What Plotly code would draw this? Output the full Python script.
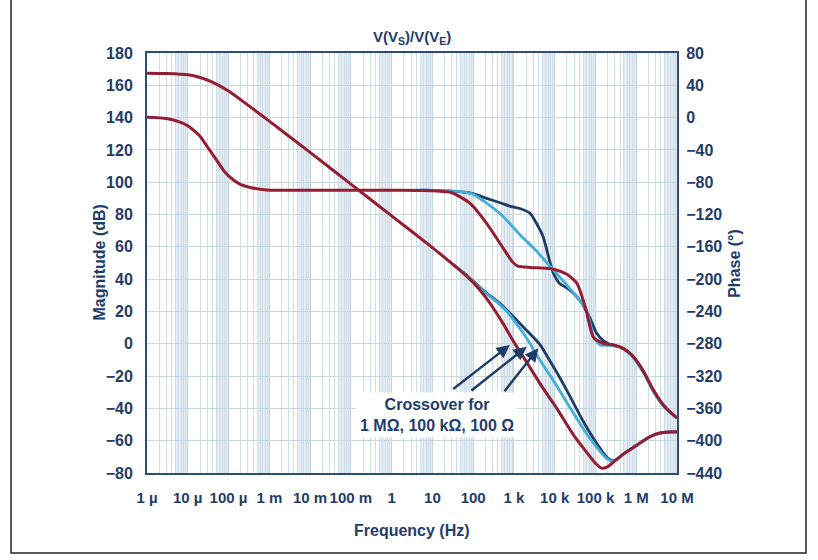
import math
import plotly.graph_objects as go

# ---------------- data ----------------
# Magnitude (dB) curves
red_mag_f = [1e-6, 3e-6, 1e-5, 2e-5, 4e-5, 1e-4, 2e-4, 5e-4, 1e-3, 1e-2, 1e-1, 1, 10, 50, 100, 200,
             500, 1e3, 2e3, 5e3, 1e4, 3e4, 6e4, 1e5, 1.4e5, 2e5, 3e5, 5e5, 1e6, 2e6, 3e6, 5e6, 1e7]
red_mag = [167.5, 167.3, 166.5, 164.8, 162, 156.5, 151, 143.5, 137.8, 118.5, 98.8, 79.2, 59.5, 45, 38, 29,
           14, 1, -11, -27, -38, -57, -67, -74, -77, -76, -72.5, -68, -63, -58, -56, -54.8, -54.5]

navy_mag_f = [30, 60, 100, 200, 500, 1e3, 2e3, 3e3, 4.5e3, 7e3, 1e4, 2e4, 5e4, 1e5,
              2e5, 2.7e5, 3.3e5, 5e5, 1e6, 2e6, 3e6, 5e6, 1e7]
navy_mag = [49.6, 43.7, 38.8, 32, 24, 16.5, 8.5, 4, -1, -9, -15.5, -29, -48, -60.5,
            -70.8, -72.3, -71.6, -68, -63, -58, -56, -54.8, -54.5]

cyan_mag_f = [30, 60, 100, 200, 400, 700, 1e3, 1.7e3, 2.5e3, 3e3, 5e3, 1e4, 2e4, 6e4,
              1e5, 1.87e5, 2.5e5, 3.3e5, 5e5, 1e6, 2e6, 3e6, 5e6, 1e7]
cyan_mag = [49.6, 43.7, 38.6, 31.5, 25.5, 19.5, 14.5, 6.5, 0, -3.5, -12.5, -24, -36.5, -55.5,
            -63, -71, -72.6, -71.6, -68, -63, -58, -56, -54.8, -54.5]

# Phase (deg) curves
red_ph_f = [1e-6, 3e-6, 6e-6, 1e-5, 2e-5, 3e-5, 5e-5, 8e-5, 1.3e-4, 2e-4, 3.4e-4, 8.6e-4, 1e-2, 1, 10, 30,
            83, 214, 550, 900, 1.2e3, 2.5e3, 6e3, 1e4, 2e4, 3.5e4, 5e4, 6e4, 8.9e4, 1.55e5, 2.5e5, 4e5,
            6e5, 8.5e5, 1.5e6, 2.6e6, 5e6, 1e7]
red_ph = [0.5, -1, -5, -10, -23, -36, -52, -67, -77, -83, -86.5, -89.5, -90, -90, -90.5, -93,
          -106, -131, -162, -178, -183.5, -185.5, -186.5, -188, -194, -205, -226, -240, -272, -279.5, -281, -284,
          -289, -296, -314, -337, -358, -372]

navy_ph_f = [3, 10, 30, 100, 214, 500, 780, 1.4e3, 2.5e3, 3.4e3, 5.2e3, 7.4e3,
             9.3e3, 1.3e4, 2.3e4, 4.1e4, 7.3e4, 1.07e5, 1.55e5, 2.2e5, 4e5, 6e5, 8.5e5, 1.5e6, 2.6e6, 5e6, 1e7]
navy_ph = [-90, -90, -91, -94, -100, -106, -109.5, -112.5, -118.5, -129, -147.5, -176,
           -192.5, -205, -213, -226, -248, -267, -276, -280.5, -284, -289, -296, -314, -337, -358, -372]

cyan_ph_f = [3, 10, 50, 100, 214, 550, 1.4e3, 3.4e3, 6e3, 9.3e3, 2.3e4, 6e4,
             8.9e4, 1.3e5, 2.2e5, 4e5, 6e5, 8.5e5, 1.5e6, 2.6e6, 5e6, 1e7]
cyan_ph = [-90, -90, -91.5, -95, -106, -122.7, -145, -164, -178, -188.7, -211, -238,
           -271, -281.5, -282, -284, -290, -297, -316, -339, -359, -372]

# Crossover arrows (head frequency / dB, tail frequency / dB)
cross_head_f = [794, 2056, 3963]
cross_head_db = [-0.8, -1.9, -2.8]
cross_tail_f = [29.8, 83.6, 550]
cross_tail_db = [-28.7, -29.7, -30.3]

x_tick_vals = [1e-6, 1e-5, 1e-4, 1e-3, 1e-2, 1e-1, 1, 10, 100, 1e3, 1e4, 1e5, 1e6, 1e7]
x_tick_text = ["1 µ", "10 µ", "100 µ", "1 m", "10 m", "100 m", "1", "10", "100",
               "1 k", "10 k", "100 k", "1 M", "10 M"]

# ---------------- style ----------------
RED = "#951d31"
NAVY = "#1e3c66"
CYAN = "#43aed9"
TXT = "#1f3d6b"
GRID = "#cfdde7"
FONT = "Liberation Sans, Arial, sans-serif"

fig = go.Figure()

def add(fx, fy, color, axis, width=2.8):
    fig.add_trace(go.Scatter(x=fx, y=fy, mode="lines", yaxis=axis,
                             line=dict(color=color, width=width, shape="spline", smoothing=0.6),
                             hoverinfo="skip", showlegend=False))

add(navy_ph_f, navy_ph, NAVY, "y2")
add(cyan_ph_f, cyan_ph, CYAN, "y2")
add(navy_mag_f, navy_mag, NAVY, "y")
add(cyan_mag_f, cyan_mag, CYAN, "y")
add(red_ph_f, red_ph, RED, "y2", 3)
add(red_mag_f, red_mag, RED, "y", 3)

# minor grid positions
minor_vals = [k * 10.0 ** n for n in range(-6, 7) for k in range(2, 10)]

shapes = []
for n in range(-6, 7):
    shapes.append(dict(type="rect", xref="x", yref="paper", x0=5 * 10.0 ** n, x1=10.0 ** (n + 1),
                       y0=0, y1=1, fillcolor="rgba(205,222,234,0.55)", line=dict(width=0), layer="below"))
# outer frame
shapes.append(dict(type="rect", xref="paper", yref="paper", x0=-0.2566, x1=1.2434, y0=-0.1905, y1=1.143,
                   line=dict(color="#222222", width=1.5), fillcolor="rgba(0,0,0,0)"))

annotations = [
    dict(text="V(V<sub>S</sub>)/V(V<sub>E</sub>)", xref="paper", yref="paper", x=0.5, y=1.036,
         showarrow=False, font=dict(size=15, color=TXT, family=FONT, weight=700), yanchor="middle"),
    dict(text="Magnitude (dB)", xref="paper", yref="paper", x=-0.1113, y=0.5, textangle=-90,
         showarrow=False, font=dict(size=16, color=TXT, family=FONT, weight=700)),
    dict(text="Phase (°)", xref="paper", yref="paper", x=1.127, y=0.5, textangle=-90,
         showarrow=False, font=dict(size=16, color=TXT, family=FONT, weight=700)),
    dict(text="Frequency (Hz)", xref="paper", yref="paper", x=0.5, y=-0.138,
         showarrow=False, font=dict(size=16, color=TXT, family=FONT, weight=700), yanchor="middle"),
]
for hf, hd, tf, td in zip(cross_head_f, cross_head_db, cross_tail_f, cross_tail_db):
    annotations.append(dict(x=math.log10(hf), y=hd, xref="x", yref="y",
                            ax=math.log10(tf), ay=td, axref="x", ayref="y",
                            showarrow=True, arrowhead=2, arrowsize=1.1, arrowwidth=2.4,
                            arrowcolor=NAVY, text="", standoff=0))
annotations.append(dict(text="Crossover for<br>1 MΩ, 100 kΩ, 100 Ω", x=math.log10(13.3), y=-44.4,
                        xref="x", yref="y", showarrow=False, bgcolor="white", borderpad=3,
                        font=dict(size=16, color=TXT, family=FONT, weight=700)))

fig.update_layout(
    width=818, height=560,
    margin=dict(l=147, r=141, t=53, b=87),
    paper_bgcolor="white", plot_bgcolor="white",
    font=dict(family=FONT, color=TXT, size=16, weight=700),
    shapes=shapes, annotations=annotations,
    xaxis=dict(type="log", range=[-6, 7], tickvals=x_tick_vals, ticktext=x_tick_text, tickangle=0,
               showgrid=True, gridcolor="#c3d4e0", gridwidth=1,
               minor=dict(tickvals=minor_vals, showgrid=True, gridcolor=GRID, gridwidth=1),
               showline=True, mirror=True, linecolor="#2c4d7b", linewidth=2,
               ticks="outside", ticklen=10, tickcolor="rgba(0,0,0,0)",
               tickfont=dict(size=15, color=TXT, family=FONT, weight=700), zeroline=False),
    yaxis=dict(range=[-80, 180], dtick=20, tick0=0, showgrid=True, gridcolor="#c8d7e2", gridwidth=1,
               showline=True, mirror=True, linecolor="#2c4d7b", linewidth=2, zeroline=False,
               ticks="outside", ticklen=9, tickcolor="rgba(0,0,0,0)",
               tickfont=dict(size=16, color=TXT, family=FONT, weight=700)),
    yaxis2=dict(range=[-440, 80], dtick=40, tick0=0, overlaying="y", side="right", showgrid=False,
                zeroline=False, showline=False, ticks="outside", ticklen=5, tickcolor="rgba(0,0,0,0)",
                tickfont=dict(size=16, color=TXT, family=FONT, weight=700)),
)

fig.write_html("out.html")
